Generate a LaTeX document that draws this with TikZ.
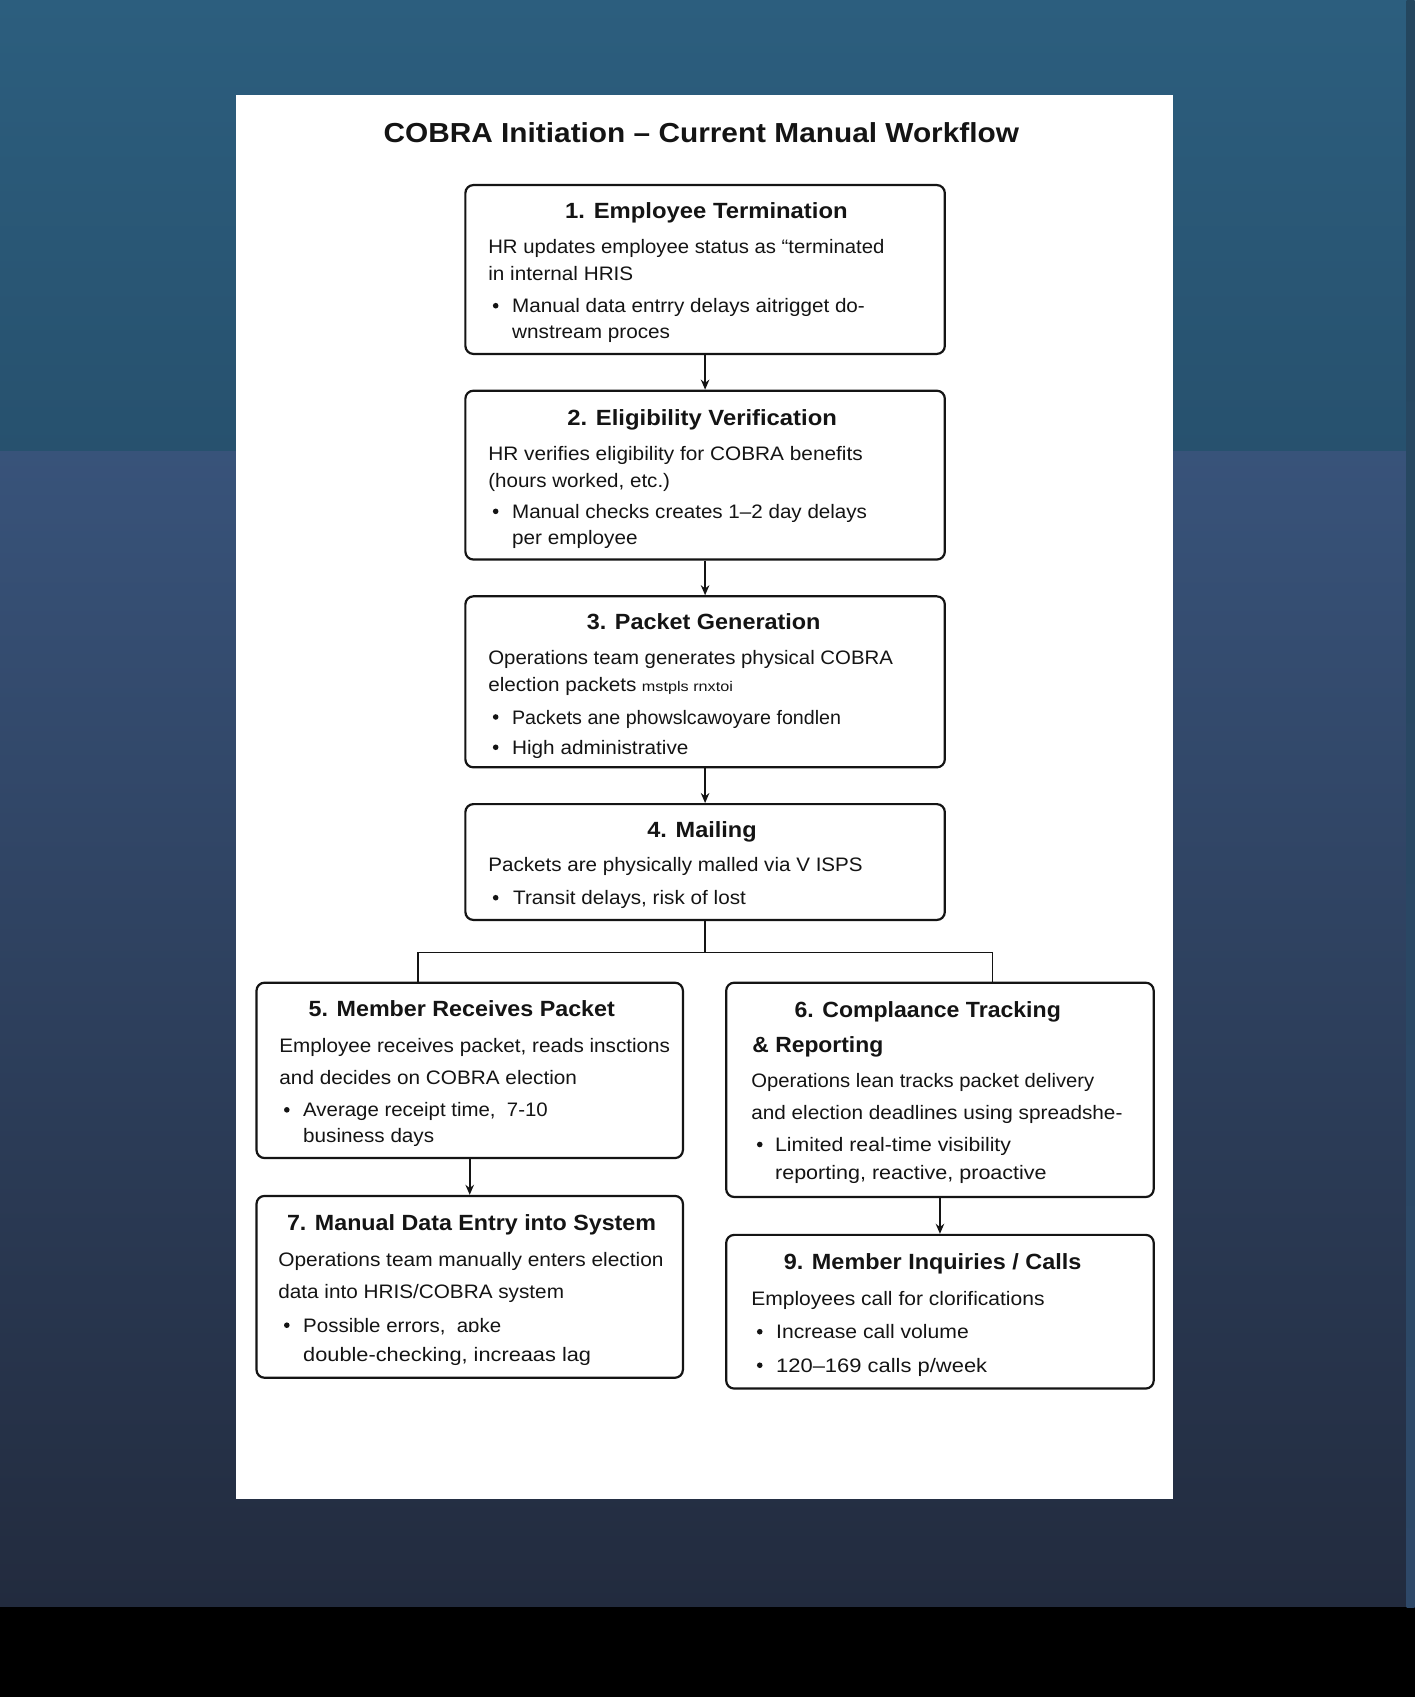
\documentclass[tikz,border=0pt]{standalone}
\usepackage{fontspec}
\usepackage{graphicx}
\setmainfont{Liberation Sans}
\usetikzlibrary{arrows.meta,fit}
\newlength\fwlen
\newcommand\fitw[2]{\settowidth\fwlen{#2}\pgfmathsetmacro\fwr{#1*1.0826pt/\fwlen}\scalebox{\fwr}[1]{#2}}
\newcommand\mkline[5]{\node[bodytxt] (#1) at (#2,#3) {\fitw{#4}{#5}};}
\newcommand\mkdot[3]{\node[bdot] (#1) at (#2,#3) {};}
\newcommand\mktitle[5]{\node[ttltxt] (#1) at (#2,#3) {\fitw{#4}{#5}};}
\definecolor{ink}{HTML}{141414}
\begin{document}
\begin{tikzpicture}[x=1.0826pt,y=-1.0826pt,
  flowbox/.style={draw=ink,line width=2.2pt,rounded corners=8pt,fill=white,inner sep=0pt},
  bodytxt/.style={anchor=mid west,inner sep=0pt,yshift=-5pt,text=ink,font=\fontsize{19.5}{21}\selectfont},
  ttltxt/.style={anchor=mid west,inner sep=0pt,yshift=-5pt,text=ink,font=\bfseries\fontsize{22}{24}\selectfont},
  bdot/.style={circle,fill=ink,inner sep=0pt,minimum size=5.6pt,yshift=-0.5pt},
  conn/.style={draw=ink,line width=1.8pt},
  arr/.style={conn,-{Stealth[length=10pt,width=8.5pt]}}]
\useasboundingbox (0,0) rectangle (1307,1568);
% background
\shade[top color={rgb,255:red,44;green,94;blue,126},bottom color={rgb,255:red,39;green,81;blue,110}] (0,0) rectangle (1307,417);
\shade[top color={rgb,255:red,56;green,83;blue,122},bottom color={rgb,255:red,34;green,43;blue,62}] (0,417) rectangle (1307,1485);
\fill[black] (0,1485) rectangle (1307,1568);
\shade[top color={rgb,255:red,36;green,70;blue,94},bottom color={rgb,255:red,46;green,72;blue,104}] (1299.7,0) rectangle (1307,1485);
% panel
\fill[white] (218,88) rectangle (1084,1385);
% title
\node[inner sep=0pt,anchor=mid,yshift=-7.5pt,text=ink,font=\bfseries\fontsize{27.5}{30}\selectfont] (title) at (648,122) {\fitw{587}{COBRA Initiation – Current Manual Workflow}};
% boxes
\node[flowbox,fit={(430,171) (873,327)}] (b1) {};
\node[flowbox,fit={(430,361) (873,517)}] (b2) {};
\node[flowbox,fit={(430,551) (873,709)}] (b3) {};
\node[flowbox,fit={(430,743) (873,850)}] (b4) {};
\node[flowbox,fit={(237,908) (631,1070)}] (b5) {};
\node[flowbox,fit={(671,908) (1066,1106)}] (b6) {};
\node[flowbox,fit={(237,1105) (631,1273)}] (b7) {};
\node[flowbox,fit={(671,1141) (1066,1283)}] (b9) {};
% box 1
\mktitle{t1}{522}{195}{261}{1. Employee Termination}
\mkline{a1}{451}{227}{366}{HR updates employee status as “terminated}
\mkline{a2}{451}{252}{134}{in internal HRIS}
\mkdot{d1}{458}{282}
\mkline{a3}{473}{282}{326}{Manual data entrry delays aitrigget do-}
\mkline{a4}{473}{306}{146}{wnstream proces}
% box 2
\mktitle{t2}{524}{386}{249}{2. Eligibility Verification}
\mkline{c1}{451}{418}{346}{HR verifies eligibility for COBRA benefits}
\mkline{c2}{451}{443}{168}{(hours worked, etc.)}
\mkdot{d2}{458}{472}
\mkline{c3}{473}{472}{328}{Manual checks creates 1–2 day delays}
\mkline{c4}{473}{496}{116}{per employee}
% box 3
\mktitle{t3}{542}{575}{216}{3. Packet Generation}
\mkline{e1}{451}{607}{374}{Operations team generates physical COBRA}
\mkline{e2}{451}{632}{137}{election packets}
\node[bodytxt,font=\fontsize{14}{15}\selectfont] (e2b) at (593,632) {\fitw{84}{mstpls rnxtoi}};
\mkdot{d3}{458}{662}
\mkline{e3}{473}{662}{304}{Packets ane phowslcawoyare fondlen}
\mkdot{d4}{458}{690}
\mkline{e4}{473}{690}{163}{High administrative}
% box 4
\mktitle{t4}{598}{767}{101}{4. Mailing}
\mkline{f1}{451}{798}{346}{Packets are physically malled via V ISPS}
\mkdot{d5}{458}{829}
\mkline{f2}{474}{829}{215}{Transit delays, risk of lost}
% box 5
\mktitle{t5}{285}{932}{283}{5. Member Receives Packet}
\mkline{g1}{258}{965}{361}{Employee receives packet, reads insctions}
\mkline{g2}{258}{995}{275}{and decides on COBRA election}
\mkdot{d6}{265}{1025}
\mkline{g3}{280}{1025}{226}{Average receipt time,~ 7-10}
\mkline{g4}{280}{1049}{121}{business days}
% box 6
\mktitle{t6}{734}{933}{246}{6. Complaance Tracking}
\mktitle{t6b}{695}{965}{121}{\& Reporting}
\mkline{h1}{694}{998}{317}{Operations lean tracks packet delivery}
\mkline{h2}{694}{1027}{343}{and election deadlines using spreadshe-}
\mkdot{d7}{702}{1057}
\mkline{h3}{716}{1057}{218}{Limited real-time visibility}
\mkline{h4}{716}{1083}{251}{reporting, reactive, proactive}
% box 7
\mktitle{t7}{265}{1130}{341}{7. Manual Data Entry into System}
\mkline{k1}{257}{1163}{356}{Operations team manually enters election}
\mkline{k2}{257}{1193}{264}{data into HRIS/COBRA system}
\mkdot{d8}{265}{1224}
\mkline{k3}{280}{1224}{183}{Possible errors,~ aɒke}
\mkline{k4}{280}{1251}{266}{double-checking, increaas lag}
% box 9
\mktitle{t9}{724}{1166}{275}{9. Member Inquiries / Calls}
\mkline{m1}{694}{1199}{271}{Employees call for clorifications}
\mkdot{d9}{702}{1230}
\mkline{m2}{717}{1230}{178}{Increase call volume}
\mkdot{d10}{702}{1261}
\mkline{m3}{717}{1261}{195}{120–169 calls p/week}
% connectors
\draw[arr] (b1.south) -- (b2.north);
\draw[arr] (b2.south) -- (b3.north);
\draw[arr] (b3.south) -- (b4.north);
\coordinate (jl) at (386,880);
\coordinate (jr) at (917,880);
\coordinate (split) at (b4.south |- jl);
\draw[conn] (b4.south) -- (split);
\draw[conn] (jl) -- (jr);
\draw[conn] (jl) -- (jl |- b5.north);
\draw[conn] (jr) -- (jr |- b6.north);
\draw[arr] (b5.south) -- (b7.north);
\draw[arr] (b6.south) -- (b9.north);
\end{tikzpicture}
\end{document}
